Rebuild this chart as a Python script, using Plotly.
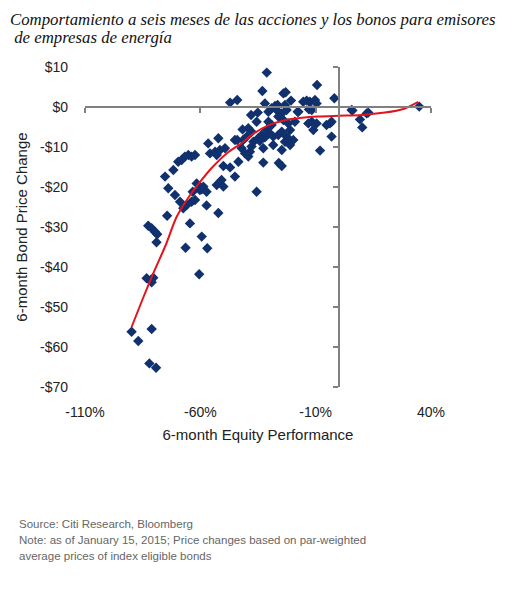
import plotly.graph_objects as go

# Scatter points: 6-month equity performance (%) vs bond price change ($)
equity_perf = [
    -47.1, -44.0, -41.7, -44.0, -56.6, -52.2, -55.8, -53.6, -51.5, -49.3,
    -52.9, -65.2, -63.8, -62.3, -66.7, -69.6, -68.1, -71.7, -75.3, -73.9,
    -61.6, -50.0, -47.1, -45.0, -50.8, -52.9, -50.0, -58.7, -60.2, -42.1,
    -43.5, -71.0, -68.8, -74.4, -67.4, -65.9, -63.8, -62.3, -63.3, -59.4,
    -57.3, -64.5, -59.4, -57.3, -52.2, -35.6, -32.7, -82.6, -81.1, -79.7,
    -78.7, -79.0, -66.4, -57.0, -60.5, -83.3, -81.5, -80.4, -81.1, -89.8,
    -86.9, -81.1, -82.1, -79.2,
    -31.2, -33.1, -24.0, -23.0, -9.4, -1.9, -32.0, -27.6, -26.5, -23.3,
    -20.7, -15.4, -13.9, -12.5, -10.3, -17.8, -12.9, -11.7, -35.1, -38.0,
    -30.5, -29.1, -26.9, -24.7, -22.6, -35.6, -39.2, -30.5, -29.1, -31.2,
    -26.2, -24.0, -21.9, -11.7, -9.6, -11.0, -5.3, -3.8, -3.1, -41.4,
    -39.9, -37.0, -34.9, -33.4, -32.0, -29.8, -28.4, -26.2, -24.7, -23.3,
    -21.9, -23.3, -40.6, -38.5, -39.2, -32.7, -28.4, -24.7, -8.1, -24.7,
    -26.0, 5.6, 5.9, 9.2, 10.2, 12.1, 12.8, 34.9, -37.8, -34.2,
    -37.8, -19.7, -21.1, -21.1, -19.0, -9.6, -13.2, -3.1, -17.5, -45.0,
]
bond_change = [
    1.1, 1.75, -5.6, -8.25, -9.1, -7.8, -11.6, -11.2, -10.75, -10.3,
    -12.0, -12.0, -12.4, -12.0, -12.4, -13.7, -13.25, -15.75, -17.4, -20.3,
    -19.1, -14.75, -15.1, -17.4, -18.25, -19.5, -19.9, -19.9, -20.75, -10.3,
    -13.7, -22.0, -23.7, -27.2, -25.3, -24.5, -23.7, -23.25, -21.2, -20.6,
    -21.2, -29.1, -32.4, -24.6, -26.5, -21.2, -13.9, -29.7, -30.3, -31.2,
    -31.8, -33.8, -35.2, -35.3, -41.8, -42.8, -43.25, -42.7, -43.8, -56.2,
    -58.5, -55.5, -64.1, -65.2,
    8.6, 4.0, 3.4, 3.7, 5.5, 2.2, 0.9, 0.25, 0.5, 0.5,
    1.6, 1.3, 1.6, 1.3, 1.75, -1.2, -0.6, -0.75, -1.4, -2.0,
    -1.2, -0.3, -0.75, -1.6, -0.75, -3.7, -5.3, -3.7, -4.5, -5.75,
    -2.4, -3.25, -4.1, -3.7, -4.1, -5.75, -4.5, -4.1, -7.4, -8.25,
    -7.4, -8.7, -7.8, -7.0, -7.6, -6.6, -7.4, -7.0, -6.2, -7.0,
    -7.8, -8.7, -11.6, -11.2, -12.4, -10.3, -9.5, -10.75, -10.9, -14.75,
    -14.0, -0.75, -0.9, -3.1, -5.1, -1.6, -1.4, 0.1, -9.9, -8.5,
    -6.2, -8.25, -9.5, -5.75, -3.7, 0.9, -4.1, -3.7, -1.2, -8.25,
]

# Red trend curve
trend_x = [-89.8, -85.0, -80.4, -75.0, -70.3, -65.0, -60.2, -55.0, -48.6, -42.0,
           -37.8, -30.5, -23.3, -16.0, -9.0, 0.0, 10.0, 20.0, 28.0, 34.5]
trend_y = [-55.0, -48.0, -41.6, -34.5, -27.5, -22.5, -18.8, -15.2, -11.6, -9.0,
           -7.0, -4.6, -3.3, -2.7, -2.4, -2.2, -2.0, -1.4, -0.5, 1.3]

x_tickvals = [-110, -60, -10, 40]
x_ticktext = ["-110%", "-60%", "-10%", "40%"]
y_tickvals = [10, 0, -10, -20, -30, -40, -50, -60, -70]
y_ticktext = ["$10", "$0", "-$10", "-$20", "-$30", "-$40", "-$50", "-$60", "-$70"]

title_lines = ["Comportamiento a seis meses de las acciones y los bonos para emisores",
               "&nbsp;de empresas de energía"]
footer_lines = ["Source: Citi Research, Bloomberg",
                "Note: as of January 15, 2015; Price changes based on par-weighted",
                "average prices of index eligible bonds"]

XR = [-110, 40]
YR = [-70, 10]

fig = go.Figure()
fig.add_trace(go.Scatter(
    x=equity_perf, y=bond_change, mode="markers",
    marker=dict(symbol="diamond", size=8, color="#10306e"),
    hoverinfo="skip", showlegend=False, xaxis="x", yaxis="y"))
fig.add_trace(go.Scatter(
    x=trend_x, y=trend_y, mode="lines",
    line=dict(color="#e3141c", width=2, shape="spline", smoothing=0.8),
    hoverinfo="skip", showlegend=False, xaxis="x2", yaxis="y2"))

# page body has an 8px margin, so the figure is shifted by 8px
OFF = 8
W, H = 516 - OFF, 590 - OFF
L, T = 85 - OFF, 67 - OFF
R, B = W - (431 - OFF), H - (387 - OFF)
pw, ph = W - L - R, H - T - B

def px_to_paper(px, py):
    px, py = px - OFF, py - OFF
    return (px - L) / pw, (H - B - py) / ph

tick_font = dict(family="Liberation Sans, Arial", size=14, color="#222222")
fig.update_layout(
    width=W, height=H,
    margin=dict(l=L, r=R, t=T, b=B, pad=0),
    paper_bgcolor="white", plot_bgcolor="white",
    xaxis=dict(range=XR, tickvals=x_tickvals, ticktext=x_ticktext,
               showline=False, showgrid=False, zeroline=False,
               ticks="", tickfont=tick_font, ticklabelstandoff=15,
               title=dict(text="6-month Equity Performance", standoff=10,
                          font=dict(family="Liberation Sans, Arial", size=15, color="#222222"))),
    yaxis=dict(range=YR, tickvals=y_tickvals, ticktext=y_ticktext,
               showline=False, showgrid=False, zeroline=False,
               ticks="", tickfont=tick_font, ticklabelstandoff=16,
               title=dict(text="6-month Bond Price Change", standoff=8,
                          font=dict(family="Liberation Sans, Arial", size=15, color="#222222"))),
    xaxis2=dict(range=XR, overlaying="x", anchor="free",
                position=(0 - YR[0]) / (YR[1] - YR[0]),
                tickvals=x_tickvals, showticklabels=False, ticks="outside",
                ticklen=5, tickwidth=1.5, tickcolor="#808080",
                showline=True, linecolor="#808080", linewidth=1.5,
                showgrid=False, zeroline=False),
    yaxis2=dict(range=YR, overlaying="y", anchor="free", side="left",
                position=(0 - XR[0]) / (XR[1] - XR[0]),
                tickvals=y_tickvals, showticklabels=False, ticks="outside",
                ticklen=5, tickwidth=1.5, tickcolor="#808080",
                showline=True, linecolor="#808080", linewidth=1.5,
                showgrid=False, zeroline=False),
)

anns = []
for i, line in enumerate(title_lines):
    x, y = px_to_paper(8, 19 + 18 * i)
    anns.append(dict(text="<i>" + line + "</i>",
                     x=x, y=y, xref="paper", yref="paper", xanchor="left", yanchor="middle",
                     showarrow=False,
                     font=dict(family="Liberation Serif, DejaVu Serif", size=16.8, color="#111111")))
for i, line in enumerate(footer_lines):
    x, y = px_to_paper(17, 524 + 16 * i)
    anns.append(dict(text=line, x=x, y=y, xref="paper", yref="paper",
                     xanchor="left", yanchor="middle", showarrow=False,
                     font=dict(family="Liberation Sans, Arial", size=11.5, color="#666666")))
fig.update_layout(annotations=anns)

fig.write_html("out.html")
